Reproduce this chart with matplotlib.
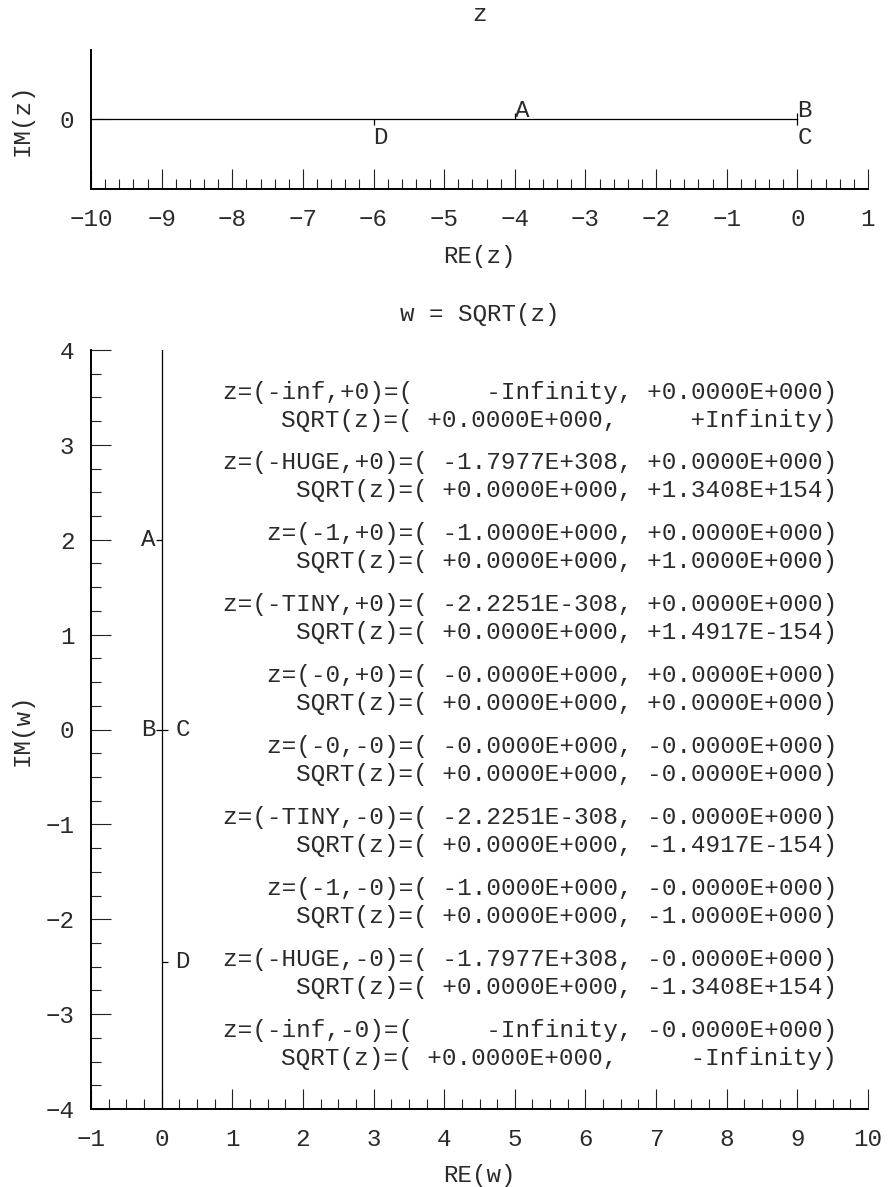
import numpy as np
import matplotlib
matplotlib.use("Agg")
import matplotlib.pyplot as plt
from matplotlib.ticker import MultipleLocator
from matplotlib.lines import TICKUP, TICKDOWN, TICKLEFT, TICKRIGHT

# ---------------- data ----------------
# path in the z plane: the negative real axis, approached from above (+0) and below (-0)
z_path_re = [-100.0, 0.0]
# labelled points (real part, sign of zero imaginary part)
point_names = ["A", "B", "C", "D"]
point_re = [-4.0, 0.0, 0.0, -6.0]
point_im_sign = [+1, +1, -1, -1]   # +0 or -0 imaginary part

# text table
z_lines = [
    "z=(-inf,+0)=(     -Infinity, +0.0000E+000)",
    "z=(-HUGE,+0)=( -1.7977E+308, +0.0000E+000)",
    "z=(-1,+0)=( -1.0000E+000, +0.0000E+000)",
    "z=(-TINY,+0)=( -2.2251E-308, +0.0000E+000)",
    "z=(-0,+0)=( -0.0000E+000, +0.0000E+000)",
    "z=(-0,-0)=( -0.0000E+000, -0.0000E+000)",
    "z=(-TINY,-0)=( -2.2251E-308, -0.0000E+000)",
    "z=(-1,-0)=( -1.0000E+000, -0.0000E+000)",
    "z=(-HUGE,-0)=( -1.7977E+308, -0.0000E+000)",
    "z=(-inf,-0)=(     -Infinity, -0.0000E+000)",
]
sqrt_lines = [
    "SQRT(z)=( +0.0000E+000,     +Infinity)",
    "SQRT(z)=( +0.0000E+000, +1.3408E+154)",
    "SQRT(z)=( +0.0000E+000, +1.0000E+000)",
    "SQRT(z)=( +0.0000E+000, +1.4917E-154)",
    "SQRT(z)=( +0.0000E+000, +0.0000E+000)",
    "SQRT(z)=( +0.0000E+000, -0.0000E+000)",
    "SQRT(z)=( +0.0000E+000, -1.4917E-154)",
    "SQRT(z)=( +0.0000E+000, -1.0000E+000)",
    "SQRT(z)=( +0.0000E+000, -1.3408E+154)",
    "SQRT(z)=( +0.0000E+000,     -Infinity)",
]

# ---------------- style ----------------
FONT = "Liberation Mono"
FS = 17.4
FS_TXT = 17.6
TXT = "#2a2a2a"
plt.rcParams["font.family"] = [FONT, "DejaVu Sans"]
plt.rcParams["font.size"] = FS
plt.rcParams["text.color"] = TXT
plt.rcParams["axes.labelcolor"] = TXT
plt.rcParams["xtick.color"] = "#222222"
plt.rcParams["ytick.color"] = "#222222"
plt.rcParams["xtick.labelcolor"] = TXT
plt.rcParams["ytick.labelcolor"] = TXT

W, H = 891, 1187
fig = plt.figure(figsize=(W / 100, H / 100), dpi=100)


def ax_rect(l, t, r, b):
    return [l / W, 1 - b / H, (r - l) / W, (b - t) / H]


ax1 = fig.add_axes(ax_rect(91, 50, 868, 189))
ax2 = fig.add_axes(ax_rect(91, 350, 868, 1109))


def style(ax, xminor, yminor):
    for s in ("top", "right"):
        ax.spines[s].set_visible(False)
    for s in ("left", "bottom"):
        ax.spines[s].set_linewidth(1.4)
        ax.spines[s].set_color("black")
    ax.xaxis.set_major_locator(MultipleLocator(1))
    ax.xaxis.set_minor_locator(MultipleLocator(xminor))
    ax.tick_params(axis="both", which="major", direction="in", length=14.4, width=0.8)
    ax.tick_params(axis="both", which="minor", direction="in", length=7.2, width=0.8)
    ax.tick_params(axis="x", which="major", pad=13.5)
    ax.tick_params(axis="y", which="major", pad=12)
    ax.tick_params(axis="both", labelsize=FS)
    if yminor:
        ax.yaxis.set_major_locator(MultipleLocator(1))
        ax.yaxis.set_minor_locator(MultipleLocator(yminor))


# ---------------- z plane ----------------
style(ax1, 0.2, None)
ax1.set_xlim(-10, 1)
ax1.set_ylim(-1, 1)
ax1.set_yticks([0])
ax1.plot(z_path_re, [0, 0], color="black", lw=0.9, clip_on=True)
for name, re, sg in zip(point_names, point_re, point_im_sign):
    mk = TICKUP if sg > 0 else TICKDOWN
    ax1.plot([re], [0], marker=mk, markersize=4.5, mew=0.9, color="black")
    dy = 6.8 if sg > 0 else -12.7
    ax1.annotate(name, (re, 0), xytext=(0, dy), textcoords="offset points",
                 ha="left", va="center", fontsize=FS, color=TXT)
ax1.set_title("z", pad=21, fontsize=FS, color=TXT)
ax1.set_xlabel("RE(z)")
ax1.set_ylabel("IM(z)")
ax1.xaxis.set_label_coords(0.5, (189 - 245) / 139)
ax1.yaxis.set_label_coords((34 - 91) / 777, 0.5)

# ---------------- w plane ----------------
style(ax2, 0.25, 0.25)
ax2.set_xlim(-1, 10)
ax2.set_ylim(-4, 4)
z_up = np.array(z_path_re) + 0j
w_up = np.sqrt(z_up)           # +0 side
w_dn = np.conj(w_up)           # -0 side (conjugate branch)
ax2.plot(w_up.real, w_up.imag, color="black", lw=0.9)
ax2.plot(w_dn.real, w_dn.imag, color="black", lw=0.9)
for name, re, sg in zip(point_names, point_re, point_im_sign):
    w = np.sqrt(complex(re, 0.0))
    if sg < 0:
        w = np.conj(w)
    mk = TICKLEFT if sg > 0 else TICKRIGHT
    ax2.plot([w.real], [w.imag], marker=mk, markersize=4.5, mew=0.9, color="black")
    off = -4.5 if sg > 0 else 10
    ax2.annotate(name, (w.real, w.imag), xytext=(off, 0), textcoords="offset points",
                 ha="right" if sg > 0 else "left", va="center", fontsize=FS, color=TXT)

# text table
x_txt = 9.56
y0 = 3.557
dy_pair = 0.748
dy_line = 0.295
for i, (zl, sl) in enumerate(zip(z_lines, sqrt_lines)):
    y = y0 - i * dy_pair
    ax2.text(x_txt, y, zl, ha="right", va="center", fontsize=FS_TXT, color=TXT)
    ax2.text(x_txt, y - dy_line, sl, ha="right", va="center", fontsize=FS_TXT, color=TXT)

ax2.set_title("w = SQRT(z)", pad=21, fontsize=FS, color=TXT)
ax2.set_xlabel("RE(w)")
ax2.set_ylabel("IM(w)")
ax2.xaxis.set_label_coords(0.5, (1109 - 1164) / 759)
ax2.yaxis.set_label_coords((34 - 91) / 777, 0.5)

fig.savefig("out.png", dpi=100)
